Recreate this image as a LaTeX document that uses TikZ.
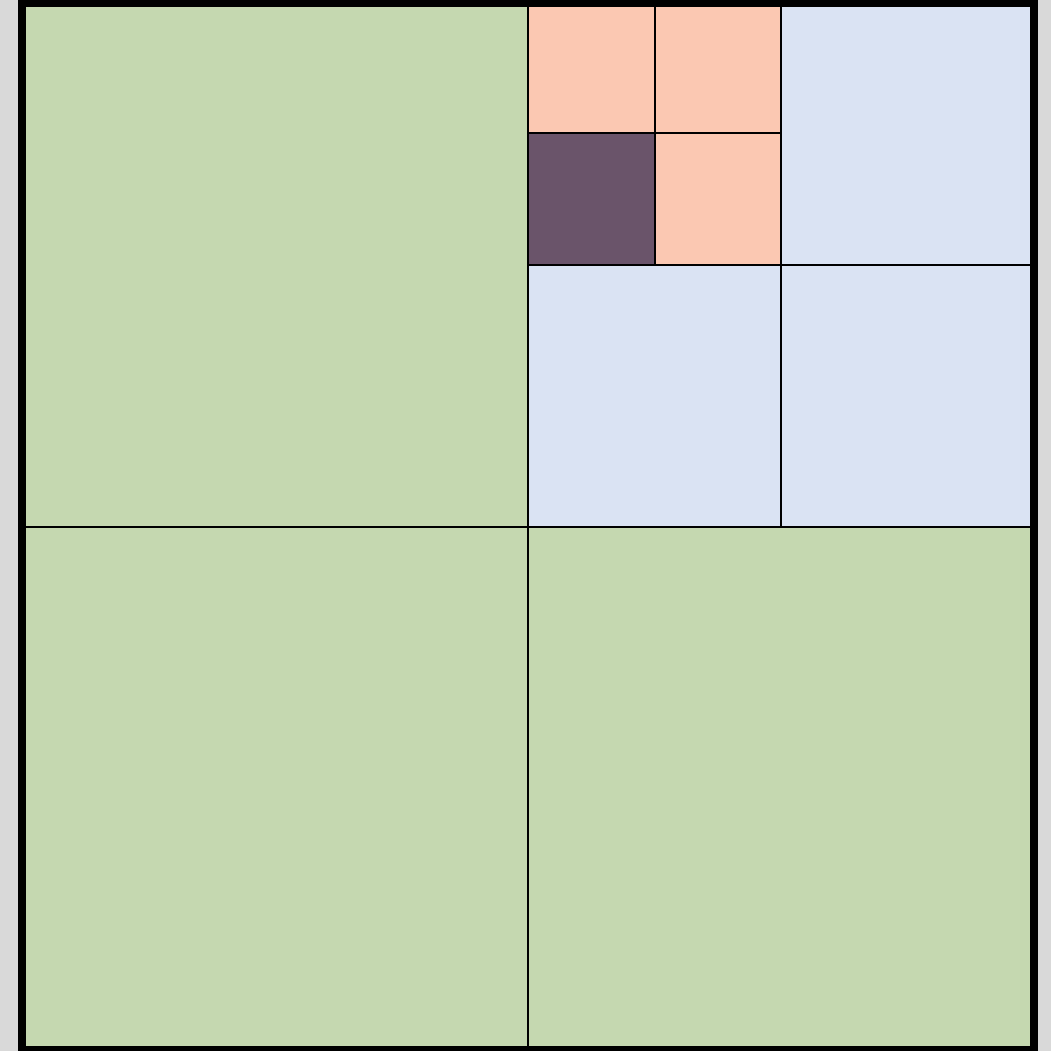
\documentclass[tikz,border=0pt]{standalone}
\definecolor{bggray}{RGB}{217,217,217}
\definecolor{cgreen}{RGB}{197,216,176}
\definecolor{cblue}{RGB}{218,227,243}
\definecolor{corange}{RGB}{251,200,178}
\definecolor{cpurple}{RGB}{106,84,106}
\tikzset{cell/.style={draw=black,line width=2pt},
  outer/.style={draw=black,line width=8pt}}
\begin{document}
\begin{tikzpicture}[x=1pt,y=-1pt]
\useasboundingbox (0,0) rectangle (1051,1051);
\clip (0,0) rectangle (1051,1051);
\fill[bggray] (0,0) rectangle (1051,1051);
% big quadrants
\path[cell,fill=cgreen] (22,3) rectangle (528,526.5);
\path[cell,fill=cgreen] (22,526.5) rectangle (528,1050);
\path[cell,fill=cgreen] (528,526.5) rectangle (1034,1050);
% upper-right quadrant
\path[cell,fill=cblue] (781,3) rectangle (1034,264.5);
\path[cell,fill=cblue] (528,264.5) rectangle (781,526.5);
\path[cell,fill=cblue] (781,264.5) rectangle (1034,526.5);
% smallest cells
\path[cell,fill=corange] (528,3) rectangle (654.5,133.5);
\path[cell,fill=corange] (654.5,3) rectangle (781,133.5);
\path[cell,fill=cpurple] (528,133.5) rectangle (654.5,264.5);
\path[cell,fill=corange] (654.5,133.5) rectangle (781,264.5);
% outer border
\path[outer] (22,3) rectangle (1034,1050);
\end{tikzpicture}
\end{document}
